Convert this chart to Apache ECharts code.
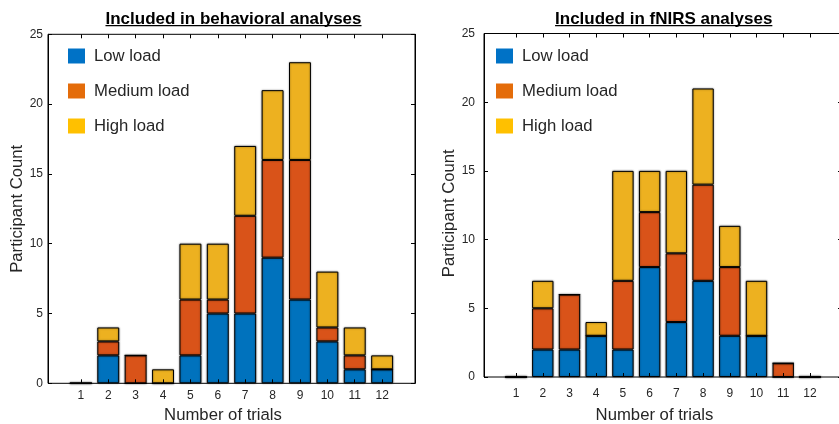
<!DOCTYPE html>
<html>
<head>
<meta charset="utf-8">
<script src="https://cdn.jsdelivr.net/npm/echarts@6/dist/echarts.min.js"></script>
<style>
html,body{margin:0;padding:0;background:#fff;}
#c{width:839px;height:424px;}
</style>
</head>
<body>
<div id="c"></div>
<script>
// ---- data ----
var trials = ['1','2','3','4','5','6','7','8','9','10','11','12'];
var yTicks = [0,5,10,15,20,25];
var seriesNames = ['Low load','Medium load','High load'];

var behavLow    = [0,2,0,0,2,5,5,9,6,3,1,1];
var behavMedium = [0,1,2,0,4,1,7,7,10,1,1,0];
var behavHigh   = [0,1,0,1,4,4,5,5,7,4,2,1];

var fnirsLow    = [0,2,2,3,2,8,4,7,3,3,0,0];
var fnirsMedium = [0,3,4,0,5,4,5,7,5,0,1,0];
var fnirsHigh   = [0,2,0,1,8,3,6,7,3,4,0,0];

var titles = ['Included in behavioral analyses','Included in fNIRS analyses'];
var xName = 'Number of trials';
var yName = 'Participant Count';

// x-limits of the axes box, in trial units
var xLimMin = -0.2, xLimMax = 13.2;

// ---- styles ----
var barColors = ['#0072BD','#D95319','#EDB120'];
var legendColors = ['#0072C6','#E46C0A','#FFC000'];
var FONT = 'Liberation Sans, Arial, Helvetica, sans-serif';
var txt = '#262626';
var bigFont = 16.7;

// frame boxes (pixels)
var frames = [
  {left:48, top:34.3, width:367, height:349},
  {left:484, top:33.5, width:358, height:343.5}
];

var grids = [], xAxis = [], yAxis = [];
var xLabelMargin = [6, 11], xNameGap = [24, 29.5];
var yLabelMargin = [5, 9], yNameGap = [21.5, 17];
var yNamePad = [[0,0,0,0],[0,16,0,0]];

frames.forEach(function(f, k){
  // frame grid
  grids.push({left:f.left, top:f.top, width:f.width, height:f.height, show:true, borderColor:'#000', borderWidth:1,
              containLabel:false, outerBoundsMode:'none'});
  // band grid for bars: category i centred at value i (1..12)
  var s = f.width / (xLimMax - xLimMin);
  var bandLeft = f.left + (0.5 - xLimMin) * s;
  grids.push({left:bandLeft, top:f.top, width:s * trials.length, height:f.height, show:false,
              containLabel:false, outerBoundsMode:'none'});
  var gFrame = 2*k, gBand = 2*k + 1;

  xAxis.push({type:'value', gridIndex:gFrame, min:0, max:1, show:false});
  xAxis.push({type:'category', gridIndex:gBand, position:'bottom', data:trials, z:5,
    name:xName, nameLocation:'middle', nameGap:xNameGap[k],
    nameTextStyle:{fontFamily:FONT, fontSize:bigFont, color:txt, padding:[0,17,0,0]},
    axisLine:{show:false},
    axisTick:{show:true, inside:true, length:4, alignWithLabel:true, lineStyle:{color:'#000'}},
    axisLabel:{show:true, interval:0, margin:xLabelMargin[k], fontFamily:FONT, fontSize:12, color:txt},
    splitLine:{show:false}});
  xAxis.push({type:'category', gridIndex:gBand, position:'top', data:trials, z:5,
    axisLine:{show:false},
    axisTick:{show:true, inside:true, length:4, alignWithLabel:true, lineStyle:{color:'#000'}},
    axisLabel:{show:false}, splitLine:{show:false}});

  yAxis.push({type:'value', gridIndex:gFrame, position:'left', min:yTicks[0], max:yTicks[yTicks.length-1], interval:5, z:5,
    name:yName, nameLocation:'middle', nameGap:yNameGap[k],
    nameTextStyle:{fontFamily:FONT, fontSize:bigFont, color:txt, padding:yNamePad[k]},
    axisLine:{show:true, onZero:false, lineStyle:{color:'#000', width:1}},
    axisTick:{show:true, inside:true, length:4, lineStyle:{color:'#000'}},
    axisLabel:{show:true, margin:yLabelMargin[k], fontFamily:FONT, fontSize:12, color:txt},
    splitLine:{show:false}});
  yAxis.push({type:'value', gridIndex:gFrame, position:'right', min:yTicks[0], max:yTicks[yTicks.length-1], interval:5, z:5,
    axisLine:{show:true, onZero:false, lineStyle:{color:'#000', width:1}},
    axisTick:{show:true, inside:true, length:4, lineStyle:{color:'#000'}},
    axisLabel:{show:false}, splitLine:{show:false}});
  yAxis.push({type:'value', gridIndex:gBand, min:yTicks[0], max:yTicks[yTicks.length-1], show:false});
});

// axis indices: band x-axis bottom = 1 (left), 4 (right); band y = 2 (left), 5 (right)
function barSeries(name, vals, xi, yi, stack, ci){
  return {
    type:'bar', name:name, data:vals, xAxisIndex:xi, yAxisIndex:yi, stack:stack,
    barWidth:'80%',
    itemStyle:{color:barColors[ci], borderColor:'#000', borderWidth:1,
               shadowBlur:2, shadowColor:'rgba(0,0,0,0.45)'},
    emphasis:{disabled:true}
  };
}

var series = [
  barSeries(seriesNames[0], behavLow, 1, 2, 'b', 0),
  barSeries(seriesNames[1], behavMedium, 1, 2, 'b', 1),
  barSeries(seriesNames[2], behavHigh, 1, 2, 'b', 2),
  barSeries(seriesNames[0], fnirsLow, 4, 5, 'f', 0),
  barSeries(seriesNames[1], fnirsMedium, 4, 5, 'f', 1),
  barSeries(seriesNames[2], fnirsHigh, 4, 5, 'f', 2)
];

function legend(left, top){
  return {
    orient:'vertical', left:left, top:top, padding:0, itemWidth:17, itemHeight:15, itemGap:14,
    icon:'rect', selectedMode:false,
    textStyle:{fontFamily:FONT, fontSize:bigFont, color:txt, lineHeight:17, padding:[4,0,0,4]},
    data: seriesNames.map(function(n,i){
      return {name:n, itemStyle:{color:legendColors[i], borderWidth:0, shadowBlur:0}};
    })
  };
}

// titles with underline
var ctx = document.createElement('canvas').getContext('2d');
var titleFont = 'bold 17px ' + FONT;
ctx.font = titleFont;
var titleCenters = [233.5, 663.7];
var graphic = [];
titles.forEach(function(t, i){
  var w = ctx.measureText(t).width;
  graphic.push({type:'text', x:titleCenters[i], y:19, style:{text:t, font:titleFont, fill:'#000', textAlign:'center', textVerticalAlign:'middle'}});
  graphic.push({type:'rect', shape:{x:titleCenters[i]-w/2, y:25, width:w, height:1.3}, style:{fill:'#000'}});
});

var chart = echarts.init(document.getElementById('c'), null, {renderer:'canvas'});
chart.setOption({
  animation:false,
  backgroundColor:'#fff',
  grid:grids,
  xAxis:xAxis,
  yAxis:yAxis,
  legend:[legend(68,45.5), legend(496,45.5)],
  series:series,
  graphic:graphic
});
</script>
</body>
</html>
